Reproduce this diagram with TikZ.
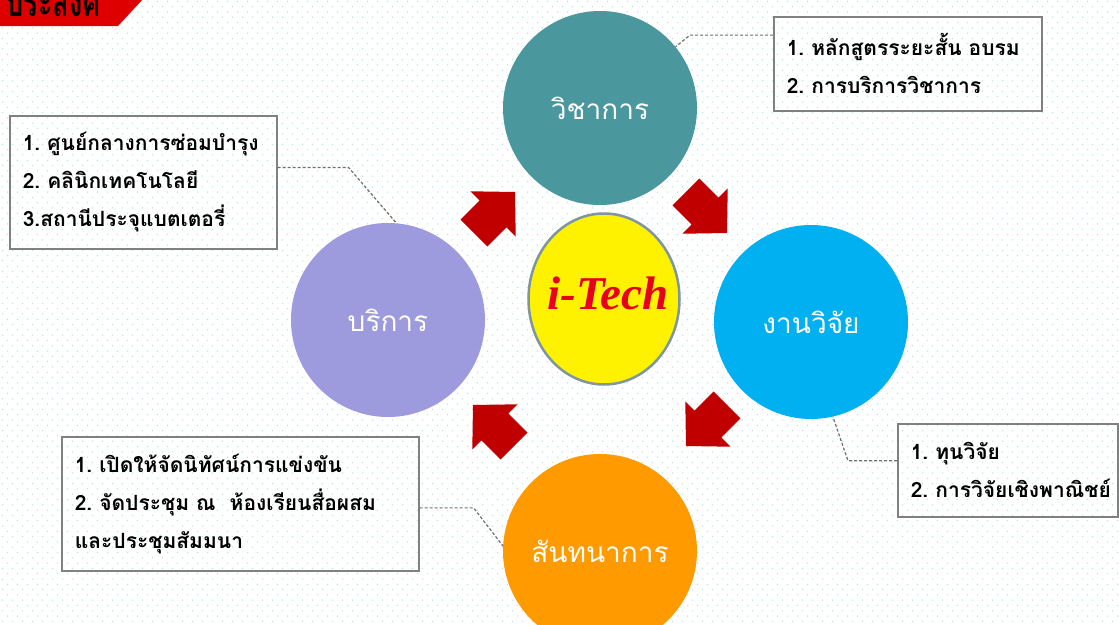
\documentclass[tikz,border=0pt]{standalone}
\usepackage{fontspec}
\newfontfamily\thai[Script=Thai]{Loma}
\newfontfamily\serifi{Liberation Serif}
\usetikzlibrary{calc,patterns,shapes.geometric}
\definecolor{dotcyan}{RGB}{185,228,228}
\definecolor{bannerred}{RGB}{222,0,0}
\definecolor{arrowred}{RGB}{192,0,0}
\definecolor{tealc}{RGB}{74,152,158}
\definecolor{purpc}{RGB}{157,155,221}
\definecolor{bluec}{RGB}{0,176,240}
\definecolor{orangec}{RGB}{255,155,0}
\definecolor{ellgray}{RGB}{125,150,160}
\definecolor{itred}{RGB}{230,0,30}
\definecolor{boxgray}{RGB}{128,128,128}
\definecolor{conngray}{RGB}{110,110,110}
\pgfdeclarepatternformonly{bgdots}{\pgfqpoint{-1pt}{-1pt}}{\pgfqpoint{11pt}{11.6pt}}{\pgfqpoint{10pt}{10.6pt}}{%
  \pgfpathcircle{\pgfqpoint{2.5pt}{2.6pt}}{0.75pt}%
  \pgfpathcircle{\pgfqpoint{7.5pt}{7.9pt}}{0.75pt}%
  \pgfusepath{fill}}
\tikzset{
  circ/.style={circle, minimum size=194pt, inner sep=0pt, text=white,
    font=\thai\fontsize{28}{30}\selectfont},
  infobox/.style={draw=boxgray, line width=1.6pt, anchor=north west,
    inner xsep=13pt, inner ysep=4pt, align=left, text=black,
    font=\thai\bfseries\fontsize{21}{38}\selectfont},
  conn/.style={draw=conngray, line width=1.2pt, dash pattern=on 3pt off 2pt},
  barrow/.pic={\fill[arrowred] (0,0) -- (-31,32) -- (-31,19) -- (-58,19)
    -- (-58,-19) -- (-31,-19) -- (-31,-32) -- cycle;}
}
\begin{document}
\begin{tikzpicture}[x=1pt,y=-1pt]
\useasboundingbox (0,0) rectangle (1119,624);
\clip (0,0) rectangle (1119,624);
\fill[white] (0,0) rectangle (1119,624);
\fill[pattern=bgdots, pattern color=dotcyan] (0,0) rectangle (1119,624);
% banner
\fill[bannerred] (0,-2) -- (144,-2) -- (118,26) -- (0,26) -- cycle;
\node[anchor=base west, inner sep=0pt, xscale=0.68, transform shape,
  font=\thai\bfseries\fontsize{40}{42}\selectfont] (banner) at (6,16) {ประสงค์};
% circles
\node[circ, fill=tealc] (aca) at (600,108) {วิชาการ};
\node[circ, fill=purpc] (svc) at (388,320) {บริการ};
\node[circ, fill=bluec] (res) at (811,322) {งานวิจัย};
\node[circ, fill=orangec] (rec) at (600,551) {สันทนาการ};
\node[ellipse, draw=ellgray, line width=2.5pt, fill=yellow, minimum width=151pt,
  minimum height=171pt, inner sep=0pt] (itech) at (604,299) {};
\node[inner sep=0pt, text=itred,
  font=\serifi\bfseries\itshape\fontsize{47}{48}\selectfont] (itechlabel) at (608,293) {i-Tech};
% arrows
\pic[rotate=45] at (515,192) {barrow};
\pic[rotate=-45] at (727,233) {barrow};
\pic[rotate=-135] at (686,446) {barrow};
\pic[rotate=135] at (473,405) {barrow};
% boxes
\node[infobox, text width=242pt, minimum height=94pt] (trbox) at (773,16)
  {1.~หลักสูตรระยะสั้น~อบรม\\2.~การบริการวิชาการ};
\node[infobox, text width=241pt, minimum height=133pt] (lbox) at (9,115)
  {1.~ศูนย์กลางการซ่อมบำรุง\\2.~คลินิกเทคโนโลยี\\3.สถานีประจุแบตเตอรี่};
\node[infobox, text width=194pt, minimum height=93pt] (brbox) at (897,423)
  {1.~ทุนวิจัย\\2.~การวิจัยเชิงพาณิชย์};
\node[infobox, text width=331pt, minimum height=134pt] (blbox) at (61,436)
  {1.~เปิดให้จัดนิทัศน์การแข่งขัน\\2.~จัดประชุม~ณ~~ห้องเรียนสื่อผสม\\และประชุมสัมมนา};
% connectors
\draw[conn] ($(trbox.north west)!0.2!(trbox.south west)$) -- ++(-83,0) -- (aca.39);
\draw[conn] ($(lbox.north east)!0.39!(lbox.south east)$) -- ++(71,0) -- (svc.85);
\draw[conn] ($(brbox.north west)!0.4!(brbox.south west)$) -- ++(-49,0) -- (res.-77);
\draw[conn] ($(blbox.north east)!0.53!(blbox.south east)$) -- ++(54,0) -- (rec.177);
\end{tikzpicture}
\end{document}
